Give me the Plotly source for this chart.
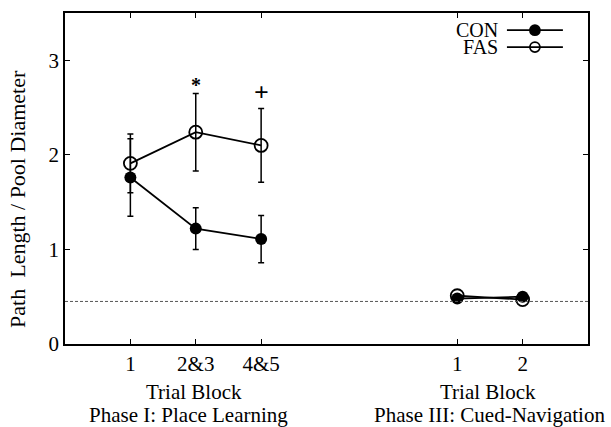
import plotly.graph_objects as go

# ---- data ----
x_pos = [1, 2, 3, 6, 7]
tick_labels = ["1", "2&3", "4&5", "1", "2"]

con_x1 = [1, 2, 3]
con_y1 = [1.76, 1.22, 1.11]
con_e1 = [0.41, 0.22, 0.25]
fas_x1 = [1, 2, 3]
fas_y1 = [1.91, 2.24, 2.10]
fas_e1 = [0.31, 0.41, 0.39]

con_x3 = [6, 7]
con_y3 = [0.48, 0.50]
fas_x3 = [6, 7]
fas_y3 = [0.51, 0.47]

baseline = 0.45
sig_x = [2, 3]
sig_y = [2.74, 2.66]
sig_text = ["*", "+"]

series_names = ["CON", "FAS"]

FONT = "Liberation Serif, Times New Roman, serif"
FS = 21

fig = go.Figure()

err_style = dict(type="data", color="black", thickness=1.5, width=3)

fig.add_trace(go.Scatter(x=con_x1, y=con_y1, mode="lines+markers", name="CON",
                         error_y=dict(array=con_e1, **err_style),
                         line=dict(color="black", width=1.8),
                         marker=dict(symbol="circle", size=12, color="black"),
                         showlegend=False))
fig.add_trace(go.Scatter(x=fas_x1, y=fas_y1, mode="lines+markers", name="FAS",
                         error_y=dict(array=fas_e1, **err_style),
                         line=dict(color="black", width=1.8),
                         marker=dict(symbol="circle-open", size=13, color="black",
                                     line=dict(width=1.8)),
                         showlegend=False))
fig.add_trace(go.Scatter(x=con_x3, y=con_y3, mode="lines+markers",
                         line=dict(color="black", width=1.8),
                         marker=dict(symbol="circle", size=12, color="black"),
                         showlegend=False))
fig.add_trace(go.Scatter(x=fas_x3, y=fas_y3, mode="lines+markers",
                         line=dict(color="black", width=1.8),
                         marker=dict(symbol="circle-open", size=13, color="black",
                                     line=dict(width=1.8)),
                         showlegend=False))

# legend samples on a hidden overlay axis (0..1 each way)
leg_y = [0.948, 0.897]
for name, yy, sym in zip(series_names, leg_y, ["circle", "circle-open"]):
    fig.add_trace(go.Scatter(x=[0.845, 0.952], y=[yy, yy], mode="lines",
                             line=dict(color="black", width=1.8),
                             xaxis="x2", yaxis="y2", showlegend=False, hoverinfo="skip"))
    fig.add_trace(go.Scatter(x=[0.8985], y=[yy], mode="markers",
                             marker=dict(symbol=sym, size=10, color="black",
                                         line=dict(width=1.8, color="black")),
                             xaxis="x2", yaxis="y2", showlegend=False, hoverinfo="skip"))
    fig.add_annotation(x=0.832, y=yy, xref="x2", yref="y2", text=name,
                       showarrow=False, xanchor="right", yanchor="middle",
                       font=dict(family=FONT, size=20, color="black"))

fig.add_shape(type="line", xref="paper", x0=0, x1=1, yref="y", y0=baseline, y1=baseline,
              line=dict(color="#555555", width=1, dash="3px,2px"))

for sx, sy, st in zip(sig_x, sig_y, sig_text):
    fig.add_annotation(x=sx, y=sy, text="<b>%s</b>" % st, showarrow=False,
                       font=dict(family=FONT, size=26 if st == "+" else 20, color="black"),
                       xanchor="center", yanchor="middle")

# axis labels as annotations
lab_font = dict(family=FONT, size=FS, color="black")
fig.add_annotation(x=0.247, y=-0.145, xref="paper", yref="paper", text="Trial Block",
                   showarrow=False, font=lab_font, xanchor="center", yanchor="middle")
fig.add_annotation(x=0.237, y=-0.215, xref="paper", yref="paper", text="Phase I: Place Learning",
                   showarrow=False, font=lab_font, xanchor="center", yanchor="middle")
fig.add_annotation(x=0.809, y=-0.145, xref="paper", yref="paper", text="Trial Block",
                   showarrow=False, font=lab_font, xanchor="center", yanchor="middle")
fig.add_annotation(x=1.036, y=-0.215, xref="paper", yref="paper", text="Phase III: Cued-Navigation",
                   showarrow=False, font=lab_font, xanchor="right", yanchor="middle")
fig.add_annotation(x=-0.092, y=0.438, xref="paper", yref="paper",
                   text="Path\u00a0 Length / Pool Diameter", textangle=-90,
                   showarrow=False, font=dict(family=FONT, size=22, color="black"),
                   xanchor="center", yanchor="middle")

axis_common = dict(showline=True, linecolor="black", linewidth=1.5, mirror="ticks",
                   ticks="inside", ticklen=5, tickcolor="black", tickwidth=1,
                   showgrid=False, zeroline=False,
                   tickfont=dict(family=FONT, size=FS, color="black"))

fig.update_layout(
    width=611, height=427,
    margin=dict(l=65, r=23, t=13, b=83),
    plot_bgcolor="white", paper_bgcolor="white",
    xaxis=dict(range=[0, 8], tickvals=x_pos, ticktext=tick_labels, **axis_common),
    yaxis=dict(range=[0, 3.5], tickvals=[0, 1, 2, 3], **axis_common),
    xaxis2=dict(range=[0, 1], overlaying="x", visible=False),
    yaxis2=dict(range=[0, 1], overlaying="y", visible=False),
    font=dict(family=FONT),
)

fig.write_html("out.html", config={"displayModeBar": False},
               post_script="document.body.style.margin='0';document.body.style.overflow='hidden';")
